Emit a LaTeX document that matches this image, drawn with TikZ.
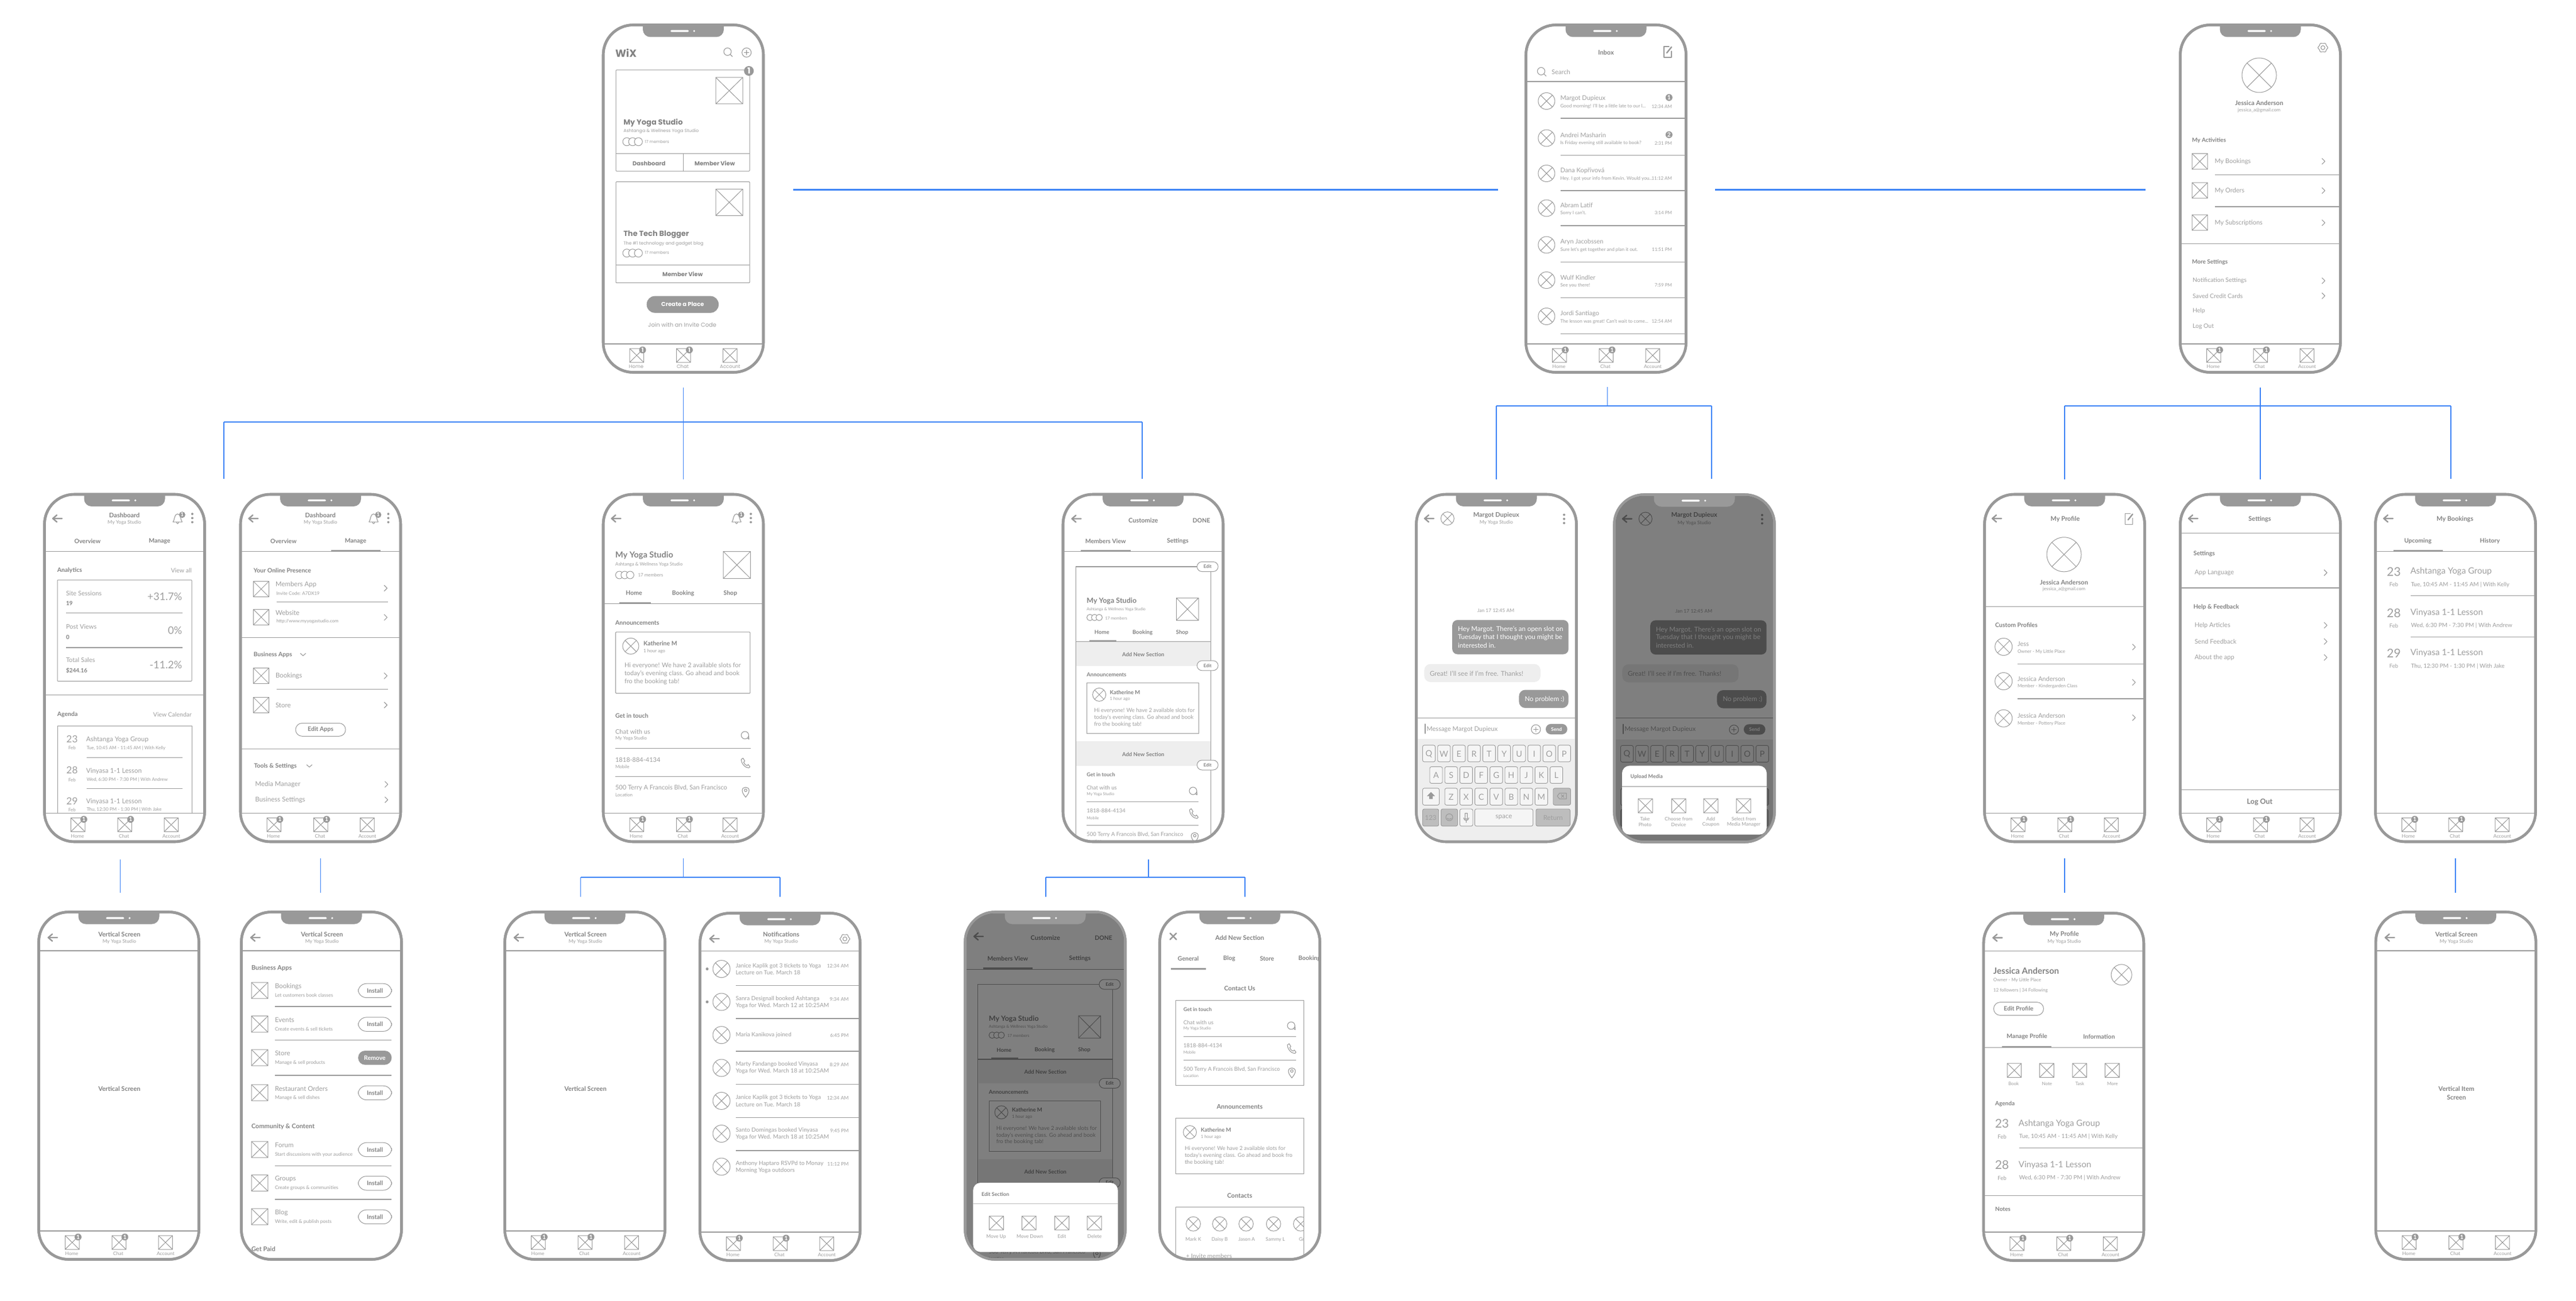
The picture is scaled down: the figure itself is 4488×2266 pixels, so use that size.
\documentclass[tikz,border=0pt]{standalone}
\usepackage{fontspec}
\usepackage{xcolor}
\setmainfont{Lato}
\newfontfamily\popfont{Poppins}
\definecolor{wfgrey}{HTML}{999999}
\definecolor{wfdark}{HTML}{828282}
\definecolor{wflight}{HTML}{9E9E9E}
\definecolor{wfblue}{HTML}{3B82F6}
\definecolor{wfpale}{HTML}{EEEEEE}
\definecolor{wfkey}{HTML}{F5F5F5}
\definecolor{wfkeyd}{HTML}{BDBDBD}
\tikzset{
  phonecase/.style={draw=wfgrey,fill=white,line width=4.6pt,rounded corners=52pt,minimum width=279pt,minimum height=605pt,inner sep=0pt},
  lbltext/.style={anchor=west,inner sep=0pt,outer sep=0pt,text=wflight},
  mid/.style={anchor=center},
  rgt/.style={anchor=east},
  wire/.style={draw=wfgrey,line width=1pt},
  rule/.style={draw=wfgrey,line width=1.3pt},
  iconline/.style={draw=wfgrey,line width=1.1pt,line join=round,line cap=round},
  thickline/.style={draw=wfgrey,line width=2.4pt,line join=round,line cap=round},
  keycap/.style={draw=wfgrey,line width=.9pt,fill=wfkey,rounded corners=3pt},
  linkbus/.style={draw=wfblue,line width=2.2pt},
  linkdrop/.style={draw=wfblue,line width=1.4pt}
}
\newcounter{lblno}
\def\fscale{1}
\def\lblfam{}
\newcommand{\lbl}[4][]{\stepcounter{lblno}\pgfmathsetmacro{\lblsize}{#3*\fscale}\node[lbltext,font=\lblfam\fontsize{\lblsize pt}{\lblsize pt}\selectfont,#1] (lbl\thelblno) at (#2) {#4};}
\newcommand{\hd}[4][]{\lbl[text=wfdark,#1]{#2}{#3}{\bfseries #4}}
\newcommand{\xbox}[4]{\draw[wire] (#1,#2) rectangle (#3,#4) (#1,#2) -- (#3,#4) (#1,#4) -- (#3,#2);}
\newcommand{\xdisc}[3]{\begin{scope}[shift={(#1,#2)}]\draw[wire] (0,0) circle[radius=#3] (45:#3) -- (225:#3) (135:#3) -- (315:#3);\end{scope}}
\newcommand{\badge}[4]{\fill[wfgrey] (#1,#2) circle[radius=#3];\lbl[mid,text=white]{#1,#2}{#3*1.7}{\bfseries #4}}
\newcommand{\chev}[2]{\begin{scope}[shift={(#1,#2)}]\draw[iconline] (-2.5,-5) -- (2.5,0) -- (-2.5,5);\end{scope}}
\newcommand{\chevd}[2]{\begin{scope}[shift={(#1,#2)}]\draw[iconline] (-4.5,-2) -- (0,2) -- (4.5,-2);\end{scope}}
\newcommand{\backarrow}[2]{\begin{scope}[shift={(#1,#2)}]\draw[thickline] (16,0) -- (0,0) (7,-6) -- (0,0) -- (7,6);\end{scope}}
\newcommand{\kebab}[2]{\fill[wfgrey] (#1,#2-7.2) circle[radius=2] (#1,#2) circle[radius=2] (#1,#2+7.2) circle[radius=2];}
\newcommand{\bell}[2]{\begin{scope}[shift={(#1,#2)}]\draw[iconline] (-8,6) .. controls (-5,3) and (-6,-8) .. (0,-8) .. controls (6,-8) and (5,3) .. (8,6) -- cycle (-2,6) .. controls (-1,10) and (1,10) .. (2,6);\badge{8}{-6.5}{5.5}{1}\end{scope}}
\newcommand{\searchicon}[2]{\begin{scope}[shift={(#1,#2)}]\draw[iconline] (0,0) circle[radius=6.5] (4.6,4.6) -- (8.5,8.5);\end{scope}}
\newcommand{\plusdisc}[2]{\begin{scope}[shift={(#1,#2)}]\draw[iconline] (0,0) circle[radius=8] (-4,0) -- (4,0) (0,-4) -- (0,4);\end{scope}}
\newcommand{\composeicon}[2]{\begin{scope}[shift={(#1,#2)}]\draw[iconline] (2,-8) -- (-7,-8) -- (-7,11) -- (6,11) -- (6,0);\draw[thickline] (-2,3) -- (6,-7);\end{scope}}
\newcommand{\gearicon}[2]{\begin{scope}[shift={(#1,#2)}]\draw[iconline,rounded corners=1pt] (0:9) -- (30:7) -- (60:9) -- (90:7) -- (120:9) -- (150:7) -- (180:9) -- (210:7) -- (240:9) -- (270:7) -- (300:9) -- (330:7) -- cycle;\draw[iconline] (0,0) circle[radius=3.5];\end{scope}}
\newcommand{\chaticon}[2]{\begin{scope}[shift={(#1,#2)}]\draw[iconline] (0,0) circle[radius=6.5] (4,5) -- (7,7) -- (6.5,1);\end{scope}}
\newcommand{\phoneicon}[2]{\begin{scope}[shift={(#1,#2)}]\draw[iconline] (-7,-7) -- (-4,-9) -- (-1,-4) -- (-3,-2) .. controls (-2,1) and (0,3) .. (3,4) -- (5,2) -- (8,6) -- (6,8) .. controls (0,8) and (-7,1) .. (-7,-7) -- cycle;\end{scope}}
\newcommand{\pinicon}[2]{\begin{scope}[shift={(#1,#2)}]\draw[iconline] (0,9) .. controls (-4,4) and (-6,1) .. (-6,-3) .. controls (-6,-10) and (6,-10) .. (6,-3) .. controls (6,1) and (4,4) .. (0,9) -- cycle (0,-3) circle[radius=2.3];\end{scope}}
\newcommand{\trio}[3]{\foreach \i in {0,1,2} {\draw[wire,fill=white] (#1+\i*#3*1.45,#2) circle[radius=#3];}}
\newcommand{\pill}[7][]{\pgfmathsetmacro{\pillr}{(#5-#3)/2}\draw[wire,rounded corners=\pillr pt,#1] (#2,#3) rectangle (#4,#5);\lbl[mid,text=wfdark]{{(#2+#4)/2},{(#3+#5)/2}}{#6}{\bfseries #7}}
\newcommand{\phonecasebody}[1]{\node[phonecase] (#1) at (142,305) {};}
\newcommand{\phonetop}{\draw[draw=wfgrey,line width=4.6pt,rounded corners=52pt] (2.5,2.5) rectangle (281.5,607.5);
  \fill[wfgrey] (71.5,2) [rounded corners=13pt] -- (71.5,23.5) -- (212.5,23.5) [sharp corners] -- (212.5,2) -- cycle;
  \fill[white,rounded corners=1.7pt] (119.5,11.3) rectangle (151.5,14.7);
  \fill[white] (160.8,13) circle[radius=1.8];}
\newcommand{\phoneclip}{\clip[rounded corners=50pt] (3,3) rectangle (281,607);}
\newcommand{\darken}{\fill[black,opacity=.5,rounded corners=50pt] (2.5,2.5) rectangle (281.5,607.5);}
\newcommand{\tabbar}{\fill[white] (3,558) rectangle (281,578);
  \draw[rule] (2.5,558) -- (281.5,558);
  \xbox{48.5}{566}{73}{590} \xbox{130}{566}{154.5}{590} \xbox{211}{566}{235.5}{590}
  \badge{71}{568.5}{6}{1} \badge{152.5}{568.5}{6}{1}
  \lbl[mid]{60,597.5}{8.5}{Home} \lbl[mid]{141,597.5}{8.5}{Chat} \lbl[mid]{223.5,597.5}{8.5}{Account}}
\newcommand{\vheader}[1]{\backarrow{19}{47}
  \hd[mid]{143,41.5}{11}{#1}
  \lbl[mid]{143,54.5}{8.5}{My Yoga Studio}
  \draw[rule] (2.5,70) -- (281.5,70);}
\newcommand{\tabs}[4]{\hd[mid]{#2,84}{10.5}{#1} \hd[mid]{#4,84}{10.5}{#3} \draw[rule] (2.5,102.3) -- (281.5,102.3);}
\newcommand{\tabmark}[3]{\draw[wfgrey,line width=3pt] (#1,#3) -- (#2,#3);}
\newcommand{\bigagenda}[5]{\lbl[mid]{34.5,#1}{21}{#3}
  \lbl[mid]{34.5,#2}{9.5}{Feb}
  \lbl{63.5,#1}{15}{#4}
  \lbl{64.5,#2}{10}{#5}}
\newcommand{\approw}[3]{\xbox{20}{#1}{48.8}{#1+28.2}
  \lbl{61,#1+6.8}{11.5}{#2}
  \lbl{61,#1+22.8}{8.5}{#3}}
\newcommand{\installbtn}[1]{\pill{206}{#1+2.2}{264.3}{#1+26.6}{10.5}{Install}}
\newcommand{\customizebody}{
  \backarrow{18}{45}
  \hd[mid]{142.3,47.8}{11}{Customize}
  \hd[mid]{243.7,47.8}{10.5}{DONE}
  \tabs{Members View}{76.6}{Settings}{202.4}
  \tabmark{33.7}{120}{100.6}
  \draw[rule] (24.8,700) -- (24.8,128.6) -- (259.7,128.6) -- (259.7,700);
  \hd{43.8,188.6}{12.5}{My Yoga Studio}
  \lbl{43.8,202.9}{7}{Ashtanga \& Wellness Yoga Studio}
  \trio{49.5}{217}{5.5}
  \lbl{76,218}{7}{17 members}
  \xbox{200}{183}{238.6}{222}
  \hd[mid]{70.3,243}{9.5}{Home} \hd[mid]{141,243}{9.5}{Booking} \hd[mid]{210,243}{9.5}{Shop}
  \draw[rule] (24.8,259) -- (259.7,259);
  \tabmark{48.4}{95}{257.5}
  \fill[wfpale] (25.5,259.7) rectangle (259,301);
  \hd[mid]{142.3,281}{9.5}{Add New Section}
  \hd{43.8,316.3}{9.5}{Announcements}
  \draw[wire] (44,331) rectangle (238.6,419);
  \xdisc{65.6}{351.4}{11.5}
  \hd{84,347}{9.5}{Katherine M}
  \lbl{84,359}{7.5}{1 hour ago}
  \lbl{56.8,379.6}{9.5}{Hi everyone! We have 2 available slots for}
  \lbl{56.8,391.4}{9.5}{today's evening class. Go ahead and book}
  \lbl{56.8,403.3}{9.5}{fro the booking tab!}
  \fill[wfpale] (25.5,432.5) rectangle (259,475.5);
  \hd[mid]{142.3,455}{9.5}{Add New Section}
  \hd{43.8,491}{9}{Get in touch}
  \lbl{43.8,514}{9.5}{Chat with us}
  \lbl{43.8,524.8}{7}{My Yoga Studio}
  \chaticon{229}{519}
  \draw[rule] (43.8,538) -- (238.6,538);
  \lbl{43.8,553.9}{9.5}{1818-884-4134}
  \lbl{43.8,566}{7}{Mobile}
  \phoneicon{230}{559}
  \draw[rule] (43.8,579) -- (238.6,579);
  \lbl{43.8,595}{9.5}{500 Terry A Francois Blvd, San Francisco}
  \lbl{43.8,606}{7}{Location}
  \pinicon{232}{600}
  \pill[fill=white]{236}{120}{272.7}{137}{8}{Edit}
  \pill[fill=white]{236}{292.3}{272.7}{309.3}{8}{Edit}
  \pill[fill=white]{236}{465.5}{272.7}{482.5}{8}{Edit}}
\newcommand{\chatbody}{
  \backarrow{17}{44.6}
  \xdisc{56.8}{44.6}{11.5}
  \hd[mid]{141.8,38.7}{11}{Margot Dupieux}
  \lbl[mid]{141.8,51.8}{8.5}{My Yoga Studio}
  \kebab{260}{45.3}
  \lbl[mid]{141,205.4}{8.5}{Jan 17 12:45 AM}
  \fill[wfgrey,rounded corners=9pt] (65.2,221.4) rectangle (267.7,281);
  \lbl[text=white]{75,237.8}{11.5}{Hey Margot. There's an open slot on}
  \lbl[text=white]{75,251.7}{11.5}{Tuesday that I thought you might be}
  \lbl[text=white]{75,265.6}{11.5}{interested in.}
  \fill[wfpale,rounded corners=11pt] (16.4,298) rectangle (218.9,329.5);
  \lbl{26,314.4}{11.5}{Great! I'll see if I'm free. Thanks!}
  \fill[wfgrey,rounded corners=11pt] (181.4,343) rectangle (267.7,374.6);
  \lbl[text=white]{191.5,359.4}{11.5}{No problem :)}
  \draw[rule] (2.5,391.8) -- (281.5,391.8);
  \draw[iconline] (18,402.4) -- (18,419);
  \lbl{20.6,411.6}{11}{Message Margot Dupieux}
  \plusdisc{210.9}{411.8}
  \fill[wfgrey,rounded corners=9pt] (228,402.4) rectangle (265.6,420.5);
  \lbl[mid,text=white]{246.8,411.5}{8.5}{\bfseries Send}
  \fill[wfpale] (2.5,428.5) rectangle (281.5,610);
  \foreach \k [count=\i from 0] in {Q,W,E,R,T,Y,U,I,O,P} {
    \draw[keycap] (13.5+26.2*\i,439.4) rectangle ++(22,29);
    \lbl[mid]{24.5+26.2*\i,454.5}{14.5}{\k}}
  \foreach \k [count=\i from 0] in {A,S,D,F,G,H,J,K,L} {
    \draw[keycap] (26+26.2*\i,476.9) rectangle ++(22,29);
    \lbl[mid]{37+26.2*\i,492}{14.5}{\k}}
  \foreach \k [count=\i from 0] in {Z,X,C,V,B,N,M} {
    \draw[keycap] (52.2+26.2*\i,514.3) rectangle ++(22,29.5);
    \lbl[mid]{63.2+26.2*\i,529.5}{14.5}{\k}}
  \draw[keycap] (13.5,514.3) rectangle (42.5,543.8);
  \fill[wfgrey] (21,528) -- (28,521) -- (35,528) -- (31,528) -- (31,533) -- (25,533) -- (25,528) -- cycle;
  \draw[keycap,fill=wfkeyd] (241,514.3) rectangle (271.5,543.8);
  \draw[iconline] (248,528) -- (252,523) -- (264,523) -- (264,533) -- (252,533) -- cycle (255,525.5) -- (260,530.5) (255,530.5) -- (260,525.5);
  \draw[keycap,fill=wfkeyd] (13.5,550.5) rectangle (41.7,580.4);
  \lbl[mid]{27.6,565.5}{11.5}{123}
  \draw[keycap,fill=wfkeyd] (45.5,550.5) rectangle (74.5,580.4);
  \draw[iconline] (60,565) circle[radius=6] (56.5,566.5) .. controls (58,569) and (62,569) .. (63.5,566.5);
  \draw[keycap] (78.3,550.5) rectangle (101,580.4);
  \draw[iconline] (87.5,558) rectangle (91.5,568) (85,566) .. controls (85,572) and (94,572) .. (94,566) (89.5,570) -- (89.5,574);
  \draw[keycap] (104.4,550.5) rectangle (205.8,580.4);
  \lbl[mid]{155,565}{11.5}{space}
  \draw[keycap,fill=wfkeyd] (211,550.5) rectangle (270.6,580.4);
  \lbl[mid]{240.8,565.5}{11.5}{Return}}
\begin{document}
\begin{tikzpicture}[x=1pt,y=-1pt]
  \useasboundingbox (0,0) rectangle (4488,2266);
  \fill[white] (0,0) rectangle (4488,2266);

  % top row
  \begin{scope}[shift={(1048.5,41)}]
    \def\lblfam{\popfont}
    \phonecasebody{home}
    \hd{23.5,51.5}{18}{WiX}
    \searchicon{219}{49}
    \plusdisc{252.2}{50.5}
    \draw[wire,rounded corners=1pt] (24.5,81) rectangle (257.5,257);
    \draw[wire] (24.5,226.4) -- (257.5,226.4) (141.5,226.4) -- (141.5,257);
    \xbox{198.5}{94}{245.5}{140}
    \hd{37.8,173}{13}{My Yoga Studio}
    \lbl{37.8,187.7}{7.8}{Ashtanga \& Wellness Yoga Studio}
    \trio{43.5}{205.8}{7}
    \lbl{75.2,205.5}{7}{17 members}
    \hd[mid]{82.2,243.7}{10}{Dashboard}
    \hd[mid]{196.8,243.7}{10}{Member View}
    \badge{256.2}{82.5}{8.5}{1}
    \draw[wire,rounded corners=1pt] (24.5,275.7) rectangle (257.5,451.6);
    \draw[wire] (24.5,420.9) -- (257.5,420.9);
    \xbox{198.5}{288.3}{245.5}{334.6}
    \hd{37.8,367}{13}{The Tech Blogger}
    \lbl{37.8,383.8}{7.8}{The \#1 technology and gadget blog}
    \trio{43.5}{399.8}{7}
    \lbl{75.2,399}{7}{17 members}
    \hd[mid]{140.8,436.9}{10}{Member View}
    \fill[wfgrey,rounded corners=14pt] (78.2,474.7) rectangle (203.5,503.8);
    \lbl[mid,text=white]{140.8,489}{10}{\bfseries Create a Place}
    \lbl[mid]{140.2,524.8}{10}{Join with an Invite Code}
    \tabbar
    \phonetop
  \end{scope}

  \begin{scope}[shift={(2656,41)}]
    \phonecasebody{inbox}
    \hd[mid]{142,50}{11}{Inbox}
    \composeicon{250}{48}
    \searchicon{29}{83}
    \lbl{47.3,84}{11}{Search}
    \draw[wfgrey,line width=2pt] (2.5,100.6) -- (281.5,100.6);
    \foreach \ya/\yn/\ys/\yl/\who/\msg/\when in {135/130.5/144.4/165/Margot Dupieux/{Good morning! I'll be a little late to our l...}/12:34 AM,
      199.5/194/208.3/229.8/Andrei Masharin/Is Friday evening still available to book?/2:31 PM,
      261/256/270/291/Dana Kopřivová/{Hey. I got your info from Kevin. Would you...}/11:12 AM,
      321.5/316/330/352/Abram Latif/Sorry I can't./3:14 PM,
      385.5/380/394/415.8/Aryn Jacobssen/Sure let's get together and plan it out./11:51 PM,
      447/442/456/477.3/Wulf Kindler/See you there!/7:59 PM,
      510/505/519/540.8/Jordi Santiago/{The lesson was great! Can't wait to come...}/12:54 AM} {
      \xdisc{38.4}{\ya}{14.5}
      \lbl{62.5,\yn}{11}{\who}
      \lbl{62.5,\ys}{8.2}{\msg}
      \lbl[rgt]{257,\ys}{8}{\when}
      \draw[rule] (62.5,\yl) -- (281,\yl);}
    \badge{251.8}{128.8}{6}{1}
    \badge{251.8}{193.6}{6}{2}
    \tabbar
    \phonetop
  \end{scope}

  \begin{scope}[shift={(3796,41)}]
    \phonecasebody{account}
    \gearicon{251}{42}
    \xdisc{140}{90}{30}
    \hd[mid]{140,138}{11}{Jessica Anderson}
    \lbl[mid]{140,151}{8.2}{jessica\_a@gmail.com}
    \hd{23,203.3}{10}{My Activities}
    \xbox{23}{226.4}{50}{253.8} \lbl{62.5,240}{11}{My Bookings} \chev{252}{240}
    \draw[rule] (62.5,263.5) -- (281,263.5);
    \xbox{23}{277}{50}{304} \lbl{62.5,291}{11}{My Orders} \chev{252}{291}
    \draw[rule] (62.5,319) -- (281,319);
    \xbox{23}{333}{50}{360} \lbl{62.5,347}{11}{My Subscriptions} \chev{252}{347}
    \draw[rule] (2.5,383.8) -- (281.5,383.8);
    \hd{23,415.4}{10}{More Settings}
    \lbl{24,448}{10.5}{Notification Settings} \chev{252}{448}
    \lbl{24,474.3}{10.5}{Saved Credit Cards} \chev{252}{474.3}
    \lbl{24,501}{10.5}{Help}
    \lbl{24,527.3}{10.5}{Log Out}
    \tabbar
    \phonetop
  \end{scope}

  % middle row
  \begin{scope}[shift={(75,858.5)}]
    \phonecasebody{dash}
    \backarrow{17}{44.6}
    \hd[mid]{141.8,38.7}{11}{Dashboard}
    \lbl[mid]{141.8,51.8}{8.5}{My Yoga Studio}
    \bell{234.4}{44.6}
    \kebab{260}{43.8}
    \tabs{Overview}{77.4}{Manage}{203}
    \hd{24.8,134.7}{10.5}{Analytics}
    \lbl[rgt]{259,134.7}{10.5}{View all}
    \draw[wire,rounded corners=1pt] (25,151.5) rectangle (259,328);
    \lbl{40,174.7}{11}{Site Sessions} \hd{40,192.3}{10}{19} \lbl[rgt]{242.4,181}{18}{+31.7\%}
    \draw[rule] (40,208.8) -- (243,208.8);
    \lbl{40,232.7}{11}{Post Views} \hd{40,251}{10}{0} \lbl[rgt]{242.4,240}{18}{0\%}
    \draw[rule] (40,269.4) -- (243,269.4);
    \lbl{40,290.8}{11}{Total Sales} \hd{40,309.3}{10}{\$244.16} \lbl[rgt]{242.4,299.2}{18}{-11.2\%}
    \draw[rule] (2.5,351.9) -- (281.5,351.9);
    \hd{24.8,386.4}{10.5}{Agenda}
    \lbl[rgt]{259,386.4}{10.5}{View Calendar}
    \draw[wire] (25,570) -- (25,406) -- (259,406) -- (259,570);
    \lbl[mid]{50.5,428.9}{17}{23} \lbl[mid]{50.5,444.4}{8}{Feb}
    \lbl{75,429.7}{11.5}{Ashtanga Yoga Group}
    \lbl{76,444.4}{8}{Tue, 10:45 AM - 11:45 AM | With Kelly}
    \draw[rule] (75.8,460.9) -- (243,460.9);
    \lbl[mid]{50.5,482.7}{17}{28} \lbl[mid]{50.5,499.6}{8}{Feb}
    \lbl{75,484.8}{11.5}{Vinyasa 1-1 Lesson}
    \lbl{76,499.6}{8}{Wed, 6:30 PM - 7:30 PM | With Andrew}
    \draw[rule] (75.8,515.2) -- (243,515.2);
    \lbl[mid]{50.5,537}{17}{29} \lbl[mid]{50.5,552}{8}{Feb}
    \lbl{75,537.5}{11.5}{Vinyasa 1-1 Lesson}
    \lbl{76,552}{8}{Thu, 12:30 PM - 1:30 PM | With Jake}
    \tabbar
    \phonetop
  \end{scope}

  \begin{scope}[shift={(416.5,858.5)}]
    \phonecasebody{manage}
    \backarrow{17}{44.6}
    \hd[mid]{141.8,38.7}{11}{Dashboard}
    \lbl[mid]{141.8,51.8}{8.5}{My Yoga Studio}
    \bell{234.4}{44.6}
    \kebab{260}{43.8}
    \tabs{Overview}{77.4}{Manage}{203}
    \tabmark{160}{246.6}{100.6}
    \hd{25.3,134.7}{10.5}{Your Online Presence}
    \xbox{25}{154}{52}{181} \lbl{63.5,159.5}{11.5}{Members App} \lbl{65,174.7}{8}{Invite Code: A7DX19} \chev{255.5}{166}
    \draw[rule] (65,190.2) -- (259,190.2);
    \xbox{25}{202.9}{52}{230} \lbl{63.5,208.8}{11.5}{Website} \lbl{65,224}{8}{http://www.myyogastudio.com} \chev{255.5}{216.8}
    \draw[rule] (2.5,252) -- (281.5,252);
    \hd{25.3,281.6}{10.5}{Business Apps} \chevd{111.5}{281.6}
    \xbox{25}{305}{52}{332} \lbl{63.5,318.6}{11.5}{Bookings} \chev{255.5}{318.6}
    \draw[rule] (65,341.8) -- (259,341.8);
    \xbox{25}{356}{52}{383} \lbl{63.5,369.5}{11.5}{Store} \chev{255.5}{369.5}
    \pill{98.5}{401}{185.6}{423.8}{10.5}{Edit Apps}
    \draw[rule] (2.5,445.7) -- (281.5,445.7);
    \hd{26,475.6}{10.5}{Tools \& Settings} \chevd{122.5}{475.6}
    \lbl{28,507.6}{11.5}{Media Manager} \chev{256.7}{507.6}
    \lbl{28,534.5}{11.5}{Business Settings} \chev{256.7}{534.5}
    \tabbar
    \phonetop
  \end{scope}

  \begin{scope}[shift={(1048.5,858.5)}]
    \phonecasebody{member}
    \backarrow{17}{44.6}
    \bell{234.7}{44.6}
    \kebab{259.6}{43.8}
    \hd{23.6,109}{14.5}{My Yoga Studio}
    \lbl{23.6,124.6}{8}{Ashtanga \& Wellness Yoga Studio}
    \trio{30.5}{143}{6.5}
    \lbl{63,142.7}{8}{17 members}
    \xbox{211.7}{102}{259}{149}
    \hd[mid]{56,174.7}{10.5}{Home} \hd[mid]{141.6,174.7}{10.5}{Booking} \hd[mid]{223.9,174.7}{10.5}{Shop}
    \tabmark{30}{85.5}{191.7}
    \draw[rule] (2.5,193.2) -- (281.5,193.2);
    \hd{23.6,226}{10.5}{Announcements}
    \draw[wire,rounded corners=1pt] (24.2,242.4) rectangle (258.3,349);
    \xdisc{50.4}{266.8}{14}
    \hd{72.7,262.6}{10.5}{Katherine M}
    \lbl{72.7,275.7}{8}{1 hour ago}
    \lbl{39.5,300.5}{11}{Hi everyone! We have 2 available slots for}
    \lbl{39.5,314.8}{11}{today's evening class. Go ahead and book}
    \lbl{39.5,328.7}{11}{fro the booking tab!}
    \hd{23.6,388.5}{10.5}{Get in touch}
    \lbl{23.6,415.8}{11}{Chat with us} \lbl{23.6,427.6}{8}{My Yoga Studio} \chaticon{249.4}{422}
    \draw[rule] (23.6,445.3) -- (259,445.3);
    \lbl{23.6,464.6}{11}{1818-884-4134} \lbl{23.6,476.9}{8}{Mobile} \phoneicon{250}{471}
    \draw[rule] (23.6,494) -- (259,494);
    \lbl{23.6,513.9}{11}{500 Terry A Francois Blvd, San Francisco} \lbl{23.6,525.7}{8}{Location} \pinicon{250.6}{521}
    \tabbar
    \phonetop
  \end{scope}

  \begin{scope}[shift={(1849.5,858.5)}]
    \phonecasebody{custom}
    \begin{scope}
      \phoneclip
      \customizebody
    \end{scope}
    \phonetop
  \end{scope}

  \begin{scope}[shift={(2465,858.5)}]
    \phonecasebody{chat}
    \begin{scope}
      \phoneclip
      \chatbody
    \end{scope}
    \phonetop
  \end{scope}

  \begin{scope}[shift={(2810,859)}]
    \phonecasebody{upload}
    \begin{scope}
      \phoneclip
      \chatbody
      \darken
    \end{scope}
    \fill[white,rounded corners=13pt] (16,474.7) rectangle (268,594.7);
    \hd{30.7,494}{9}{Upload Media}
    \draw[draw=wfkeyd,line width=1.5pt] (16,511) -- (268,511);
    \xbox{44}{532}{69}{556.8} \xbox{102.3}{532}{127}{556.8} \xbox{158.2}{532}{183}{556.8} \xbox{215}{532}{240}{556.8}
    \lbl[mid]{56,567.3}{8.5}{Take} \lbl[mid]{56,577.4}{8.5}{Photo}
    \lbl[mid]{114.5,567.3}{8.5}{Choose from} \lbl[mid]{114.5,577.4}{8.5}{Device}
    \lbl[mid]{170.5,567.3}{8.5}{Add} \lbl[mid]{170.5,577.4}{8.5}{Coupon}
    \lbl[mid]{228,567.3}{8.5}{Select from} \lbl[mid]{228,577.4}{8.5}{Media Manager}
    \phonetop
  \end{scope}

  \begin{scope}[shift={(3455,858.5)}]
    \phonecasebody{profile}
    \backarrow{16}{44.6}
    \hd[mid]{142.9,45.9}{11}{My Profile}
    \composeicon{254.5}{44}
    \xdisc{141}{107.3}{30}
    \hd[mid]{141,155.7}{11}{Jessica Anderson}
    \lbl[mid]{141,168}{8.2}{jessica\_a@gmail.com}
    \draw[rule] (2.5,197.8) -- (281.5,197.8);
    \hd{21,230.6}{10.5}{Custom Profiles}
    \xdisc{35.7}{268}{15} \lbl{60,262.6}{11}{Jess} \lbl{60,276.5}{8}{Owner - My Little Place} \chev{262.8}{268.5}
    \draw[rule] (60,298) -- (281,298);
    \xdisc{35.7}{328}{15} \lbl{60,323.6}{11}{Jessica Anderson} \lbl{60,336.7}{8}{Member - Kindergarden Class} \chev{262.8}{330}
    \draw[rule] (60,358.6) -- (281,358.6);
    \xdisc{35.7}{392.7}{15} \lbl{60,387.6}{11}{Jessica Anderson} \lbl{60,401.5}{8}{Member - Pottery Place} \chev{262.8}{391.4}
    \tabbar
    \phonetop
  \end{scope}

  \begin{scope}[shift={(3796,858.5)}]
    \phonecasebody{settings}
    \backarrow{17}{44.6}
    \hd[mid]{141,45.9}{11}{Settings}
    \draw[rule] (2.5,70.3) -- (281.5,70.3);
    \hd{25.5,106.5}{10.5}{Settings}
    \lbl{27.5,139}{11}{App Language} \chev{255.7}{139}
    \draw[rule] (2.5,165.4) -- (281.5,165.4);
    \hd{25.5,198.7}{10.5}{Help \& Feedback}
    \lbl{27.5,230.6}{11}{Help Articles} \chev{255.7}{230.6}
    \lbl{27.5,258.8}{11}{Send Feedback} \chev{255.7}{258.8}
    \lbl{27.5,286.6}{11}{About the app} \chev{255.7}{286.6}
    \draw[rule] (2.5,516.8) -- (281.5,516.8);
    \hd[mid]{141,538.7}{12.5}{Log Out}
    \tabbar
    \phonetop
  \end{scope}

  \begin{scope}[shift={(4136,858.5)}]
    \phonecasebody{bookings}
    \backarrow{17}{44.6}
    \hd[mid]{141,45.9}{11}{My Bookings}
    \tabs{Upcoming}{76.5}{History}{202}
    \tabmark{33.8}{120}{100.6}
    \bigagenda{137}{160}{23}{Ashtanga Yoga Group}{Tue, 10:45 AM - 11:45 AM | With Kelly}
    \draw[rule] (64,178.9) -- (281,178.9);
    \bigagenda{209}{231.5}{28}{Vinyasa 1-1 Lesson}{Wed, 6:30 PM - 7:30 PM | With Andrew}
    \draw[rule] (64,250.8) -- (281,250.8);
    \bigagenda{279}{301.8}{29}{Vinyasa 1-1 Lesson}{Thu, 12:30 PM - 1:30 PM | With Jake}
    \tabbar
    \phonetop
  \end{scope}

  % bottom row
  \begin{scope}[shift={(65,1586)}]
    \phonecasebody{vscreena}
    \vheader{Vertical Screen}
    \hd[mid]{143,310.6}{11}{Vertical Screen}
    \tabbar
    \phonetop
  \end{scope}

  \begin{scope}[shift={(418,1586)}]
    \phonecasebody{apps}
    \vheader{Vertical Screen}
    \hd{20,100}{11}{Business Apps}
    \approw{125}{Bookings}{Let customers book classes}
    \installbtn{125}
    \draw[rule] (61,167) -- (264.3,167);
    \approw{183.7}{Events}{Create events \& sell tickets}
    \installbtn{183.7}
    \draw[rule] (61,225.7) -- (264.3,225.7);
    \approw{242}{Store}{Manage \& sell products}
    \fill[wfgrey,rounded corners=12pt] (206,244) rectangle (264.3,268.6);
    \lbl[mid,text=white]{235,256.3}{10.5}{\bfseries Remove}
    \draw[rule] (61,287) -- (264.3,287);
    \approw{303}{Restaurant Orders}{Manage \& sell dishes}
    \installbtn{303}
    \hd{20,376.7}{11}{Community \& Content}
    \approw{402}{Forum}{Start discussions with your audience}
    \installbtn{402}
    \draw[rule] (61,444.5) -- (264.3,444.5);
    \approw{460.4}{Groups}{Create groups \& communities}
    \installbtn{460.4}
    \draw[rule] (61,502.9) -- (264.3,502.9);
    \approw{519}{Blog}{Write, edit \& publish posts}
    \installbtn{519}
    \hd{20,589.4}{11}{Get Paid}
    \phonetop
  \end{scope}

  \begin{scope}[shift={(877,1586)}]
    \phonecasebody{vscreenb}
    \vheader{Vertical Screen}
    \hd[mid]{143,310.6}{11}{Vertical Screen}
    \tabbar
    \phonetop
  \end{scope}

  \begin{scope}[shift={(1217,1588)}]
    \phonecasebody{notif}
    \backarrow{19.8}{47}
    \hd[mid]{144,39.6}{11}{Notifications}
    \lbl[mid]{144,52.6}{8.5}{My Yoga Studio}
    \gearicon{255}{47.3}
    \draw[rule] (2.5,68.6) -- (281.5,68.6);
    \fill[wfgrey] (15,99.6) circle[radius=2.5] (15,157) circle[radius=2.5];
    \foreach \ya/\yt/\yb/\yl/\lna/\lnb/\when in {99.6/94.3/106/128.6/Janice Kaplik got 3 tickets to Yoga/Lecture on Tue. March 18/12:34 AM,
      157/152/164/186/Sanra Designall booked Ashtanga/Yoga for Wed. March 12 at 10:25AM/9:34 AM,
      214.7/215/215/243/Maria Kanikova joined//6:45 PM,
      272/266/278/300.8/Marty Fandango booked Vinyasa/Yoga for Wed. March 18 at 10:25AM/8:29 AM,
      329.4/324/336.3/358.4/Janice Kaplik got 3 tickets to Yoga/Lecture on Tue. March 18/12:34 AM,
      386.5/381/393/415.9/Santo Domingas booked Vinyasa/Yoga for Wed. March 18 at 10:25AM/9:45 PM} {
      \xdisc{40}{\ya}{15}
      \lbl{64.8,\yt}{10}{\lna}
      \lbl{64.8,\yb}{10}{\lnb}
      \lbl[rgt]{261.4,\yt}{8.5}{\when}
      \draw[rule] (64.8,\yl) -- (281,\yl);}
    \xdisc{40}{444}{15}
    \lbl{64.8,439}{10}{Anthony Haptaro RSVPd to Monay}
    \lbl{64.8,451}{10}{Morning Yoga outdoors}
    \lbl[rgt]{261.4,439}{8.5}{11:12 PM}
    \tabbar
    \phonetop
  \end{scope}

  \begin{scope}[shift={(1679,1586)}]
    \phonecasebody{editsheet}
    \begin{scope}
      \phoneclip
      \customizebody
      \darken
    \end{scope}
    \fill[white,rounded corners=13pt] (16.4,474) rectangle (268.5,594.7);
    \hd{31,494.3}{9}{Edit Section}
    \draw[draw=wfkeyd,line width=1.5pt] (16.4,510.6) -- (268.5,510.6);
    \xbox{44.6}{532}{69.4}{556} \xbox{101.4}{532}{126}{556} \xbox{158.7}{532}{183.5}{556} \xbox{215}{532}{240}{556}
    \lbl[mid]{56.4,567.8}{8.5}{Move Up}
    \lbl[mid]{115,567.8}{8.5}{Move Down}
    \lbl[mid]{171,567.8}{8.5}{Edit}
    \lbl[mid]{228,567.8}{8.5}{Delete}
    \phonetop
  \end{scope}

  \begin{scope}[shift={(2018,1586)}]
    \phonecasebody{addsection}
    \begin{scope}
      \phoneclip
      \draw[thickline] (20.5,39.4) -- (31.5,50.4) (31.5,39.4) -- (20.5,50.4);
      \hd[mid]{141.8,47.8}{11}{Add New Section}
      \hd[mid]{52.2,83.7}{10.5}{General} \hd[mid]{123.7,83.7}{10.5}{Blog} \hd[mid]{189.4,83.7}{10.5}{Store}
      \hd{244,83.7}{10.5}{Booking}
      \tabmark{21.9}{83.3}{101}
      \hd[mid]{141.8,136}{11}{Contact Us}
      \draw[wire] (30.7,156.3) rectangle (253.4,304.5);
      \hd{43.8,172}{9}{Get in touch}
      \lbl{43.8,195.5}{9.5}{Chat with us} \lbl{43.8,206}{7}{My Yoga Studio} \chaticon{231.5}{200.4}
      \draw[rule] (43.8,219.6) -- (240,219.6);
      \lbl{43.8,235.5}{9.5}{1818-884-4134} \lbl{43.8,247.3}{7}{Mobile} \phoneicon{232}{240.8}
      \draw[rule] (43.8,260.4) -- (240,260.4);
      \lbl{43.8,276.3}{9.5}{500 Terry A Francois Blvd, San Francisco} \lbl{43.8,287.8}{7}{Location} \pinicon{232.7}{282.4}
      \hd[mid]{141.8,342}{11}{Announcements}
      \draw[wire] (30.7,361.6) rectangle (253.4,458);
      \xdisc{55}{386}{11.5}
      \hd{74,382.4}{9.5}{Katherine M}
      \lbl{74,394.3}{7.5}{1 hour ago}
      \lbl{46.3,414.3}{9.5}{Hi everyone! We have 2 available slots for}
      \lbl{46.3,426.5}{9.5}{today's evening class. Go ahead and book fro}
      \lbl{46.3,438.4}{9.5}{the booking tab!}
      \hd[mid]{141.8,496}{11}{Contacts}
      \draw[wire] (30.7,700) -- (30.7,516) -- (253.4,516) -- (253.4,700);
      \begin{scope}
        \clip (31,516) rectangle (253,610);
        \foreach \cx/\lx/\who in {61/61/Mark K,107/107/Daisy B,153/154/Jason A,200.8/204/Sammy L,248/254/Greg} {
          \xdisc{\cx}{545.7}{12.5}
          \lbl[mid]{\lx,572.7}{8.5}{\who}}
      \end{scope}
      \lbl{48.4,602}{10.5}{+ Invite members}
    \end{scope}
    \phonetop
  \end{scope}

  \begin{scope}[shift={(3453.4,1588)}]
    \phonecasebody{myprofile}
    \backarrow{18.9}{45.3}
    \hd[mid]{143,39.6}{11}{My Profile}
    \lbl[mid]{143,52.6}{8.5}{My Yoga Studio}
    \draw[rule] (2.5,68.6) -- (281.5,68.6);
    \hd{19.5,102.9}{15}{Jessica Anderson}
    \lbl{19.5,118.8}{8}{Owner - My Little Place}
    \lbl{19.5,136.7}{8}{12 followers | 34 Following}
    \xdisc{242.7}{109.8}{18}
    \pill{20}{157.6}{107}{180.4}{10.5}{Edit Profile}
    \hd[mid]{78,218}{10.5}{Manage Profile} \hd[mid]{203.6,218}{10.5}{Information}
    \tabmark{35}{121}{235}
    \draw[rule] (2.5,236.3) -- (281.5,236.3);
    \xbox{43.6}{264}{68.3}{288.6} \xbox{100}{264}{125}{288.6} \xbox{157.4}{264}{182}{288.6} \xbox{214}{264}{239}{288.6}
    \lbl[mid]{54.7,299.6}{8}{Book} \lbl[mid]{113,299.6}{8}{Note} \lbl[mid]{170,299.6}{8}{Task} \lbl[mid]{227,299.6}{8}{More}
    \hd{22.8,334.3}{10}{Agenda}
    \bigagenda{369.4}{391.8}{23}{Ashtanga Yoga Group}{Tue, 10:45 AM - 11:45 AM | With Kelly}
    \draw[rule] (64.4,411.4) -- (281,411.4);
    \bigagenda{441}{464}{28}{Vinyasa 1-1 Lesson}{Wed, 6:30 PM - 7:30 PM | With Andrew}
    \draw[rule] (2.5,494.7) -- (281.5,494.7);
    \hd{22.8,518}{10}{Notes}
    \tabbar
    \phonetop
  \end{scope}

  \begin{scope}[shift={(4136.6,1586)}]
    \phonecasebody{vitem}
    \vheader{Vertical Screen}
    \hd[mid]{143,310.6}{11}{Vertical Item}
    \hd[mid]{143,325.3}{11}{Screen}
    \tabbar
    \phonetop
  \end{scope}

  % links between the screens
  \coordinate (homeout) at (1382,330.5);
  \coordinate (inboxin) at (2610,330.5);
  \coordinate (inboxout) at (2988,330.5);
  \coordinate (accountin) at (3738,330.5);
  \draw[linkbus] (homeout) -- (inboxin);
  \draw[linkbus] (inboxout) -- (accountin);

  \coordinate (homebus) at (1190.5,734.7);
  \coordinate (dashdrop) at (390,834);
  \coordinate (customdrop) at (1990,834);
  \draw[linkdrop] ([yshift=-24pt]home.south) -- ([yshift=24pt]member.north);
  \draw[linkbus] (dashdrop |- homebus) -- (customdrop |- homebus);
  \draw[linkdrop] (dashdrop |- homebus) -- (dashdrop);
  \draw[linkdrop] (customdrop |- homebus) -- (customdrop);

  \coordinate (inboxbus) at (2800.7,707);
  \coordinate (inboxout) at (2800.7,674);
  \coordinate (uploaddrop) at (2982,834);
  \draw[linkdrop] (inboxout) -- (inboxbus);
  \draw[linkbus] (chat.north |- inboxbus) -- (uploaddrop |- inboxbus);
  \draw[linkdrop] (chat.north |- inboxbus) -- ([yshift=24pt]chat.north);
  \draw[linkdrop] (uploaddrop |- inboxbus) -- (uploaddrop);

  \coordinate (accountbus) at (3938,707);
  \coordinate (bookingsdrop) at (4270,834);
  \draw[linkdrop] ([yshift=-24pt]account.south) -- ([yshift=24pt]settings.north);
  \draw[linkbus] (profile.north |- accountbus) -- (bookingsdrop |- accountbus);
  \draw[linkdrop] (profile.north |- accountbus) -- ([yshift=24pt]profile.north);
  \draw[linkdrop] (bookingsdrop |- accountbus) -- (bookingsdrop);

  \coordinate (lowerin) at (0,1555);
  \coordinate (dashout) at (209.4,1497);
  \coordinate (vscreenin) at (209.4,1555);
  \draw[linkdrop] (dashout) -- (vscreenin);
  \draw[linkdrop] ([yshift=-27pt]manage.south) -- (manage.south |- lowerin);

  \coordinate (memberbus) at (1190.5,1528);
  \coordinate (notifin) at (1359,1561.7);
  \coordinate (vscreenbin) at (1011.5,1561.7);
  \draw[linkdrop] ([yshift=-27pt]member.south) -- (member.south |- memberbus);
  \draw[linkbus] (vscreenbin |- memberbus) -- (notifin |- memberbus);
  \draw[linkdrop] (vscreenbin |- memberbus) -- (vscreenbin);
  \draw[linkdrop] (notifin |- memberbus) -- (notifin);

  \coordinate (custombus) at (2001,1528);
  \coordinate (customout) at (2001,1497);
  \coordinate (editin) at (1822,1561.7);
  \coordinate (addin) at (2169,1561.7);
  \draw[linkdrop] (customout) -- (custombus);
  \draw[linkbus] (editin |- custombus) -- (addin |- custombus);
  \draw[linkdrop] (editin |- custombus) -- (editin);
  \draw[linkdrop] (addin |- custombus) -- (addin);

  \draw[linkdrop] ([yshift=-27pt]profile.south) -- (profile.south |- lowerin);
  \draw[linkdrop] ([yshift=-27pt]bookings.south) -- (bookings.south |- lowerin);
\end{tikzpicture}
\end{document}
